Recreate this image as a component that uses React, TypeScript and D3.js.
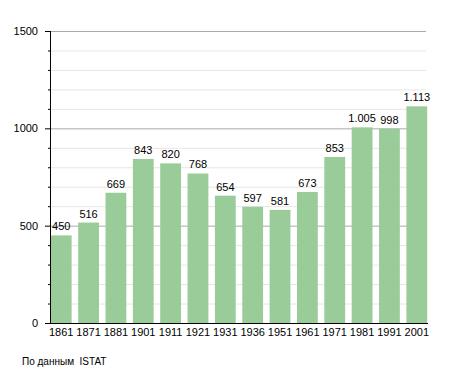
import { useEffect, useRef } from 'react'
import * as d3 from 'd3'

// Census years and population values
const years = ['1861', '1871', '1881', '1901', '1911', '1921', '1931', '1936', '1951', '1961', '1971', '1981', '1991', '2001']
const population = [450, 516, 669, 843, 820, 768, 654, 597, 581, 673, 853, 1005, 998, 1113]
const majorTicks = [0, 500, 1000, 1500]
const sourceNote = 'По данным  ISTAT'

const WIDTH = 455
const HEIGHT = 373

// 1005 -> "1.005"
const formatValue = (v: number) => d3.format(',')(v).replace(/,/g, '.')

function App() {
  const svgRef = useRef<SVGSVGElement | null>(null)

  useEffect(() => {
    if (!svgRef.current) return
    const svg = d3.select(svgRef.current)
    svg.selectAll('*').remove()

    const left = 50
    const right = 428
    const top = 31
    const bottom = 323

    const x = d3.scaleBand<string>()
      .domain(years)
      .range([left, right])
      .paddingInner(0.24)
      .paddingOuter(0.03)

    const y = d3.scaleLinear()
      .domain([0, 1500])
      .range([bottom, top])

    const minorTicks = d3.range(0, 1501, 100).filter(v => v % 500 !== 0)

    // minor gridlines (every 100)
    svg.append('g')
      .selectAll('line')
      .data(minorTicks)
      .enter()
      .append('line')
      .attr('x1', left)
      .attr('x2', 426)
      .attr('y1', d => y(d) + 0.5)
      .attr('y2', d => y(d) + 0.5)
      .attr('stroke', '#e6e6e6')
      .attr('stroke-width', 1)

    // major gridlines
    svg.append('g')
      .selectAll('line')
      .data(majorTicks.filter(d => d > 0))
      .enter()
      .append('line')
      .attr('x1', left)
      .attr('x2', 426)
      .attr('y1', d => y(d) + 0.5)
      .attr('y2', d => y(d) + 0.5)
      .attr('stroke', '#aaaaaa')
      .attr('stroke-width', 1)

    // bars
    svg.append('g')
      .selectAll('rect')
      .data(population)
      .enter()
      .append('rect')
      .attr('x', (d, i) => x(years[i])!)
      .attr('y', d => y(d))
      .attr('width', x.bandwidth())
      .attr('height', d => bottom - y(d))
      .attr('fill', '#99cc99')

    // value labels
    svg.append('g')
      .selectAll('text')
      .data(population)
      .enter()
      .append('text')
      .attr('x', (d, i) => x(years[i])! + x.bandwidth() / 2)
      .attr('y', d => y(d) - 5)
      .attr('text-anchor', 'middle')
      .attr('font-size', 11)
      .attr('fill', '#000')
      .text(d => formatValue(d))

    // y axis line and ticks
    svg.append('line')
      .attr('x1', left + 0.5).attr('x2', left + 0.5)
      .attr('y1', top).attr('y2', bottom)
      .attr('stroke', '#000')

    svg.append('g')
      .selectAll('line')
      .data(minorTicks)
      .enter()
      .append('line')
      .attr('x1', left - 2)
      .attr('x2', left)
      .attr('y1', d => y(d) + 0.5)
      .attr('y2', d => y(d) + 0.5)
      .attr('stroke', '#000')

    svg.append('g')
      .selectAll('line')
      .data(majorTicks)
      .enter()
      .append('line')
      .attr('x1', left - 5)
      .attr('x2', left)
      .attr('y1', d => y(d) + 0.5)
      .attr('y2', d => y(d) + 0.5)
      .attr('stroke', '#000')

    svg.append('g')
      .selectAll('text')
      .data(majorTicks)
      .enter()
      .append('text')
      .attr('x', 38)
      .attr('y', d => y(d) + 4)
      .attr('text-anchor', 'end')
      .attr('font-size', 11)
      .attr('fill', '#000')
      .text(d => d)

    // x axis line
    svg.append('line')
      .attr('x1', left - 5).attr('x2', right)
      .attr('y1', bottom + 0.5).attr('y2', bottom + 0.5)
      .attr('stroke', '#000')

    svg.append('g')
      .selectAll('text')
      .data(years)
      .enter()
      .append('text')
      .attr('x', d => x(d)! + x.bandwidth() / 2)
      .attr('y', bottom + 13)
      .attr('text-anchor', 'middle')
      .attr('font-size', 11)
      .attr('fill', '#000')
      .text(d => d)

    svg.append('text')
      .attr('x', 22)
      .attr('y', 365)
      .attr('font-size', 10)
      .attr('fill', '#000')
      .style('white-space', 'pre')
      .text(sourceNote)
  }, [])

  return (
    <svg
      ref={svgRef}
      width={WIDTH}
      height={HEIGHT}
      style={{ position: 'absolute', left: 0, top: 0, background: '#fff', fontFamily: '"Liberation Sans", Arial, sans-serif' }}
    />
  )
}

export default App
